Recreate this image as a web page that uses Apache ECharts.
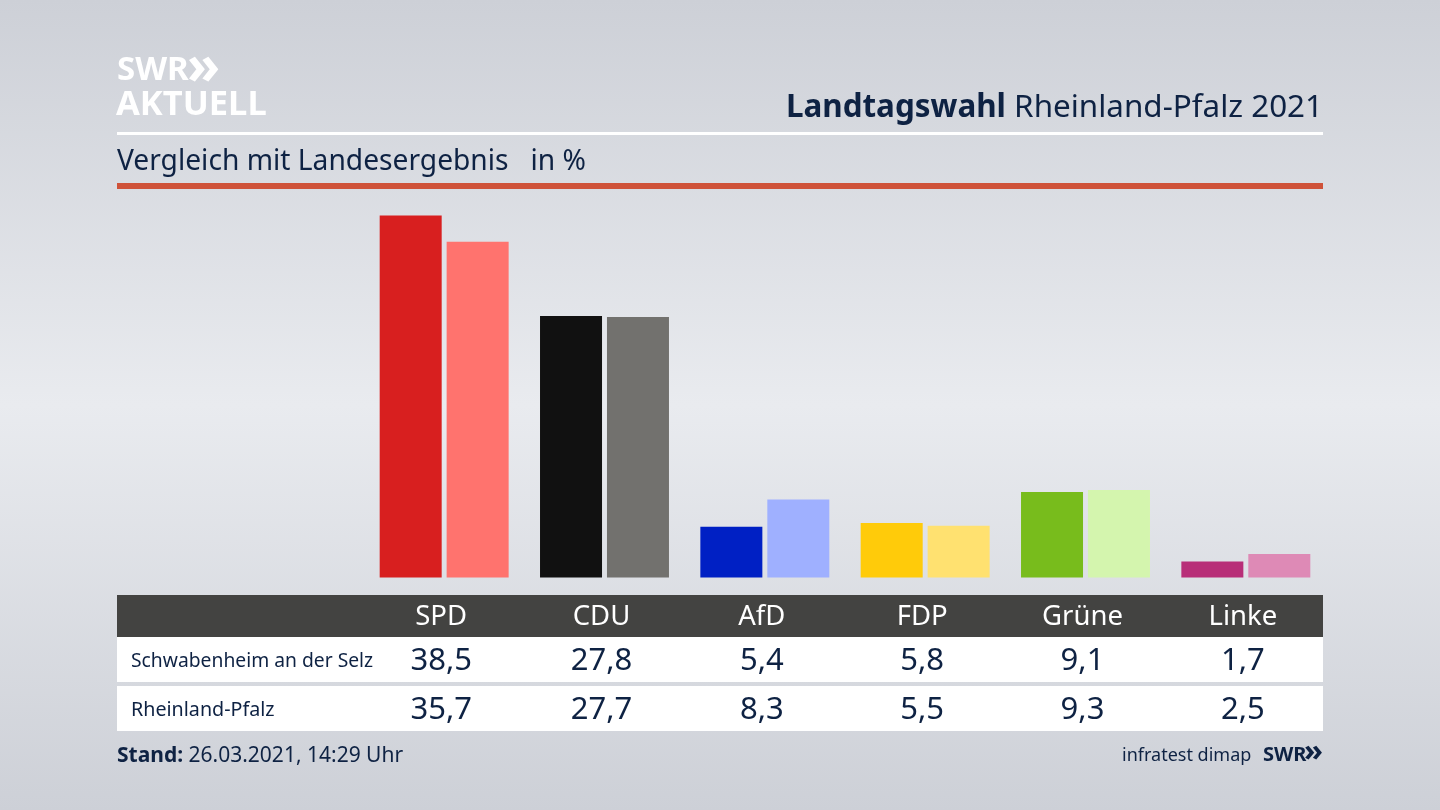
<!DOCTYPE html>
<html><head><meta charset="utf-8">
<style>html,body{margin:0;padding:0;background:#e0e2e7}#c{width:1440px;height:810px}</style>
<script src="https://cdn.jsdelivr.net/npm/echarts@6/dist/echarts.min.js"></script>
</head><body><div id="c"></div>
<script>
const parties = ['SPD','CDU','AfD','FDP','Grüne','Linke'];
const local = [38.5,27.8,5.4,5.8,9.1,1.7];
const state = [35.7,27.7,8.3,5.5,9.3,2.5];
const localColors = ['#d81f1f','#111111','#0020c4','#ffcb0a','#78bc1c','#b82e78'];
const stateColors = ['#ff736e','#72716e','#9fb0ff','#ffe170','#d4f5ae','#de8ab6'];
const localName = 'Schwabenheim an der Selz';
const stateName = 'Rheinland-Pfalz';
const font = '"Noto Sans","Open Sans",sans-serif';
const navy = '#0e2243';
const fmt = v => v.toFixed(1).replace('.', ',');
const rect = (x,y,w,h,fill) => ({type:'rect',z:-1,shape:{x,y,width:w,height:h},style:{fill}});
const text = (x,y,t,size,extra={}) => ({type:'text',x,y,z:5,style:Object.assign({text:t,fontFamily:font,fontSize:size,fill:navy,verticalAlign:'middle'},extra)});
const labelAxis = (data,margin,size,color) => ({
  type:'category',data,position:'bottom',gridIndex:1,
  axisLine:{show:false},axisTick:{show:false},
  axisLabel:{interval:0,margin,fontFamily:font,fontSize:size,color,lineHeight:size,verticalAlign:'middle',align:'center'}
});
const chart = echarts.init(document.getElementById('c'),null,{renderer:'canvas',width:1440,height:810});
chart.setOption({
  animation:false,
  backgroundColor:{type:'linear',x:0,y:0,x2:0,y2:1,colorStops:[
    {offset:0,color:'#cdd0d7'},{offset:.5,color:'#e9ebef'},{offset:1,color:'#cdd0d7'}]},
  grid:[
    {left:364,right:114,top:215.5,bottom:232.5},
    {left:361,right:117,top:215,bottom:233}
  ],
  xAxis:[
    {type:'category',data:parties,gridIndex:0,show:false},
    labelAxis(parties,40,27.5,'#ffffff'),
    labelAxis(local.map(fmt),84.5,31,navy),
    labelAxis(state.map(fmt),133.5,31,navy)
  ],
  yAxis:[
    {type:'value',min:0,max:38.5,show:false,gridIndex:0},
    {type:'value',min:0,max:38.5,show:false,gridIndex:1}
  ],
  series:[
    {type:'bar',name:localName,data:local.map((v,i)=>({value:v,itemStyle:{color:localColors[i]}})),barWidth:62,barGap:'8%'},
    {type:'bar',name:stateName,data:state.map((v,i)=>({value:v,itemStyle:{color:stateColors[i]}})),barWidth:62}
  ],
  graphic:[
    rect(117,132,1206,3,'#ffffff'),
    rect(117,183,1206,6,'#cf5239'),
    rect(117,595,1206,42,'#434341'),
    rect(117,637,1206,45,'#ffffff'),
    rect(117,686,1206,45,'#ffffff'),
    text(117,71,'SWR',33,{fill:'#ffffff',fontWeight:'bold'}),
    text(187,69,'»',54,{fill:'#ffffff',fontWeight:'bold'}),
    text(116,105,'AKTUELL',34.5,{fill:'#ffffff',fontWeight:'bold'}),
    text(1323,108,'{b|Landtagswahl} {n|Rheinland-Pfalz 2021}',31.4,{align:'right',rich:{
      b:{fontFamily:font,fontSize:31.4,fontWeight:'bold',fill:navy},
      n:{fontFamily:font,fontSize:31.4,fill:navy}}}),
    text(117,162,'Vergleich mit Landesergebnis   in %',28.2),
    text(131,662,localName,19.3),
    text(131,710,stateName,19.7),
    text(117,756,'{b|Stand:} {n|26.03.2021, 14:29 Uhr}',21,{rich:{
      b:{fontFamily:font,fontSize:21,fontWeight:'bold',fill:navy},
      n:{fontFamily:font,fontSize:21,fill:navy}}}),
    text(1122,756,'infratest dimap',18),
    text(1263,755,'SWR',20,{fontWeight:'bold'}),
    text(1304,752.5,'»',31,{fontWeight:'bold'})
  ]
});
</script></body></html>
